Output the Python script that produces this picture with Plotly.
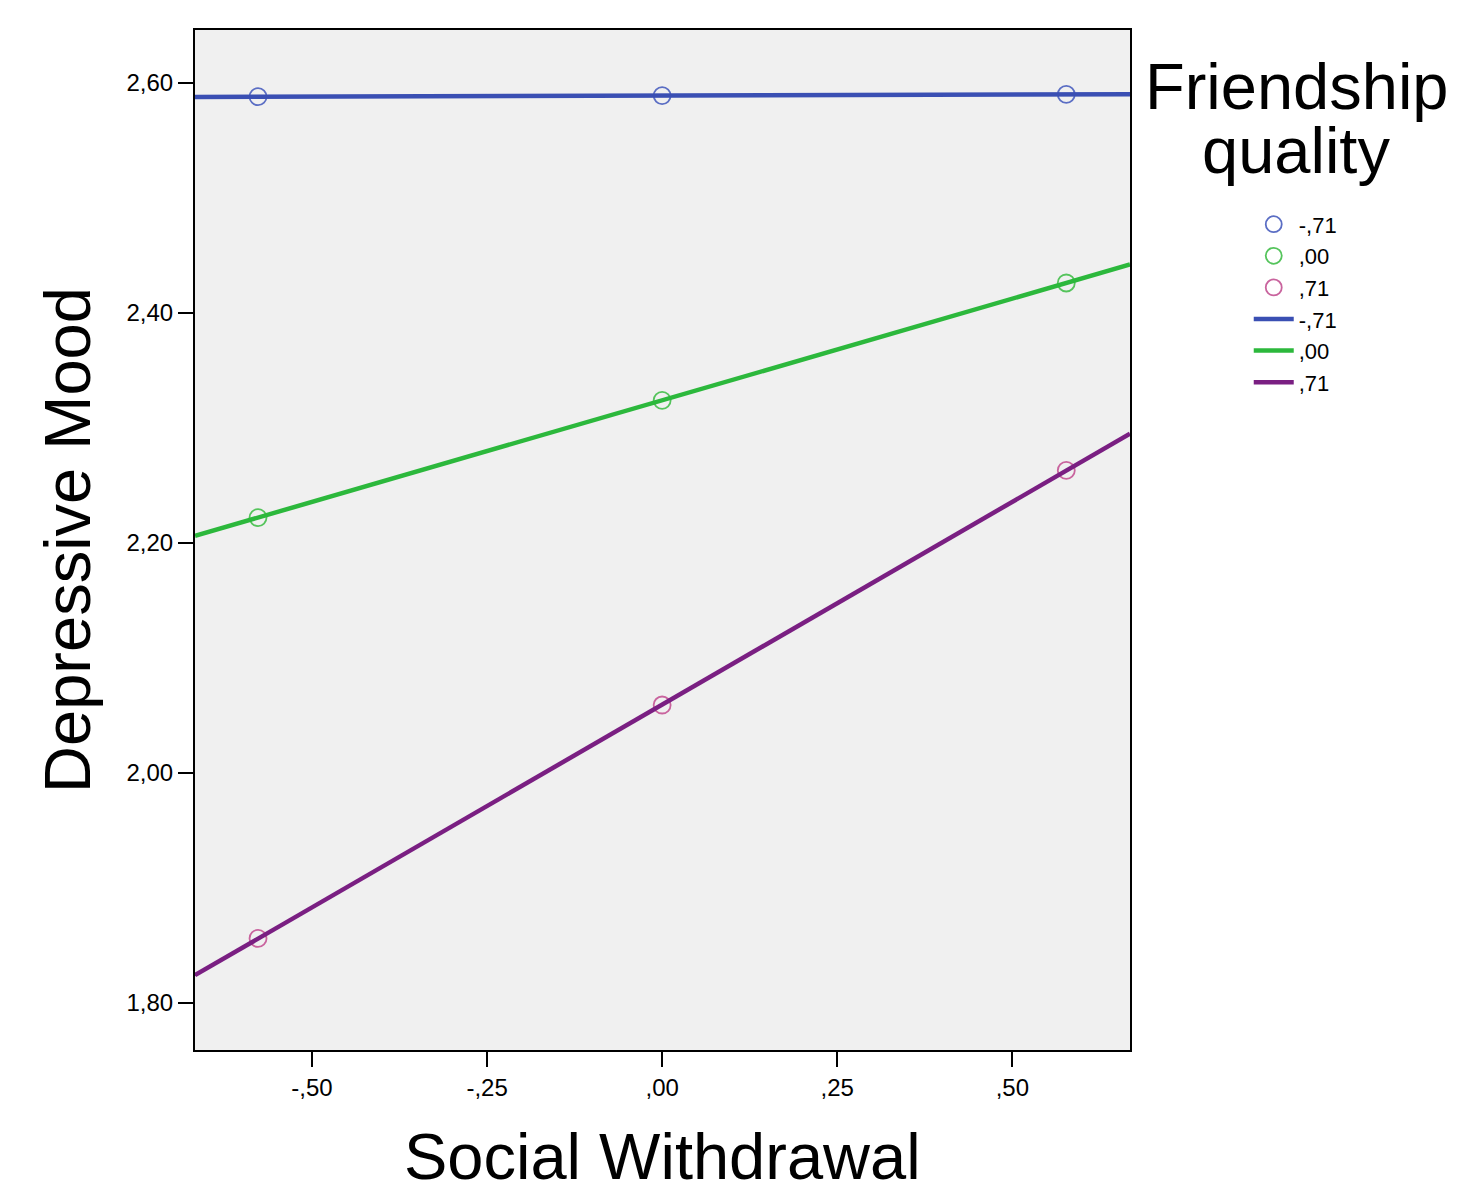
import numpy as np
import plotly.graph_objects as go

# ---- data ----
groups = ["-,71", ",00", ",71"]
x_points = [-0.577, 0.0, 0.577]
blue_y = [2.588, 2.589, 2.590]
green_y = [2.222, 2.324, 2.426]
purple_y = [1.856, 2.059, 2.263]
x_range = [-0.667, 0.668]
y_range = [1.759, 2.646]
x_tickvals = [-0.50, -0.25, 0.0, 0.25, 0.50]
x_ticktext = ["-,50", "-,25", ",00", ",25", ",50"]
y_tickvals = [1.80, 2.00, 2.20, 2.40, 2.60]
y_ticktext = ["1,80", "2,00", "2,20", "2,40", "2,60"]
legend_title_lines = ["Friendship", "quality"]
x_title = "Social Withdrawal"
y_title = "Depressive Mood"

series_y = [blue_y, green_y, purple_y]
marker_colors = ["#5b6ec4", "#55c45c", "#c9649e"]
line_colors = ["#3a4fb3", "#2cb83c", "#7a1f82"]

FONT = "Liberation Sans, Arial"

fig = go.Figure()
for name, ys, mc in zip(groups, series_y, marker_colors):
    fig.add_trace(go.Scatter(
        x=x_points, y=ys, mode="markers", name=name,
        marker=dict(symbol="circle-open", size=17, color=mc, line=dict(width=1.8, color=mc)),
    ))
for name, ys, lc in zip(groups, series_y, line_colors):
    slope, icpt = np.polyfit(x_points, ys, 1)
    xs = np.array(x_range)
    fig.add_trace(go.Scatter(
        x=xs, y=slope * xs + icpt, mode="lines", name=name,
        line=dict(color=lc, width=4.5),
    ))

# plot area in page pixels: x 195..1130, y 30..1050 (1020 px tall)
for line_text, ypix in zip(legend_title_lines, [86, 150]):
    fig.add_annotation(
        text=line_text, xref="paper", yref="paper",
        x=(1296 - 195) / 935, y=(1050 - ypix) / 1020,
        xanchor="center", yanchor="middle", showarrow=False,
        font=dict(size=65, color="black", family=FONT),
    )
# x axis title placed as annotation so it can sit low like the reference
fig.add_annotation(
    text=x_title, xref="paper", yref="paper",
    x=0.5, y=(1050 - 1156) / 1020,
    xanchor="center", yanchor="middle", showarrow=False,
    font=dict(size=65, color="black", family=FONT),
)

fig.update_layout(
    width=1449, height=1177,
    margin=dict(l=187, r=327, t=22, b=135),
    paper_bgcolor="white", plot_bgcolor="#f0f0f0",
    font=dict(family=FONT, color="black"),
    showlegend=True,
    legend=dict(
        x=1.127, y=0.83, xanchor="left", yanchor="top",
        font=dict(size=22, color="black"),
        bgcolor="rgba(0,0,0,0)", tracegroupgap=0, itemwidth=40,
    ),
)
fig.update_xaxes(
    range=x_range, tickvals=x_tickvals, ticktext=x_ticktext,
    showgrid=False, zeroline=False, showline=True, linecolor="black", linewidth=2,
    mirror=True, ticks="outside", ticklen=15, tickwidth=2, tickcolor="black",
    tickfont=dict(size=24), automargin=False,
)
fig.update_yaxes(
    range=y_range, tickvals=y_tickvals, ticktext=y_ticktext,
    showgrid=False, zeroline=False, showline=True, linecolor="black", linewidth=2,
    mirror=True, ticks="outside", ticklen=15, tickwidth=2, tickcolor="black",
    tickfont=dict(size=24), automargin=False,
    title=dict(text=y_title, font=dict(size=65), standoff=15),
)

fig.write_html("out.html")
